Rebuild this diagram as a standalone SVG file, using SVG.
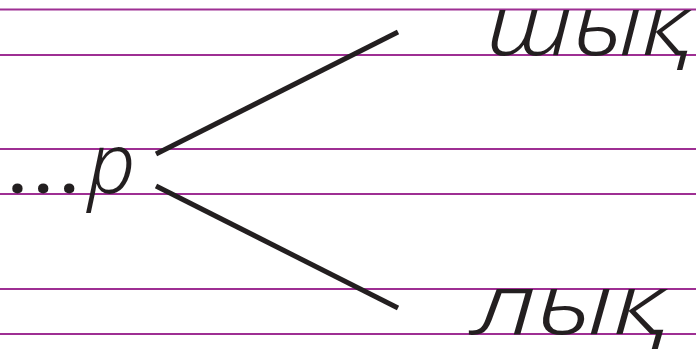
<svg xmlns="http://www.w3.org/2000/svg" width="696" height="355" viewBox="0 0 696 355">
  <style>
    .rule { stroke: #9e2f93; stroke-width: 2.2; }
    .conn { stroke: #231f20; stroke-width: 5; fill: none; }
    .hw { font-family: "Noto Sans", "DejaVu Sans", sans-serif; font-style: italic; font-weight: 300; fill: #231f20; }
  </style>
  <rect width="696" height="355" fill="#ffffff"/>
  <g id="rules">
    <line class="rule" x1="0" y1="9.5" x2="696" y2="9.5"/>
    <line class="rule" x1="0" y1="55" x2="696" y2="55"/>
    <line class="rule" x1="0" y1="149" x2="696" y2="149"/>
    <line class="rule" x1="0" y1="194" x2="696" y2="194"/>
    <line class="rule" x1="0" y1="289" x2="696" y2="289"/>
    <line class="rule" x1="0" y1="334" x2="696" y2="334"/>
  </g>
  <g id="connectors">
    <line class="conn" x1="156" y1="154" x2="398" y2="32"/>
    <line class="conn" x1="156" y1="186" x2="398" y2="308"/>
  </g>
  <g id="prefix">
    <text class="hw" x="9" y="193"><tspan font-size="60" font-style="normal" font-weight="700" letter-spacing="9">...</tspan><tspan x="88" font-size="84">р</tspan></text>
  </g>
  <g id="word-top">
    <text class="hw" x="486" y="55" font-size="84" textLength="204" lengthAdjust="spacingAndGlyphs">шық</text>
  </g>
  <g id="word-bottom">
    <text class="hw" x="474" y="334" font-size="84" textLength="192" lengthAdjust="spacingAndGlyphs">лық</text>
  </g>
</svg>
